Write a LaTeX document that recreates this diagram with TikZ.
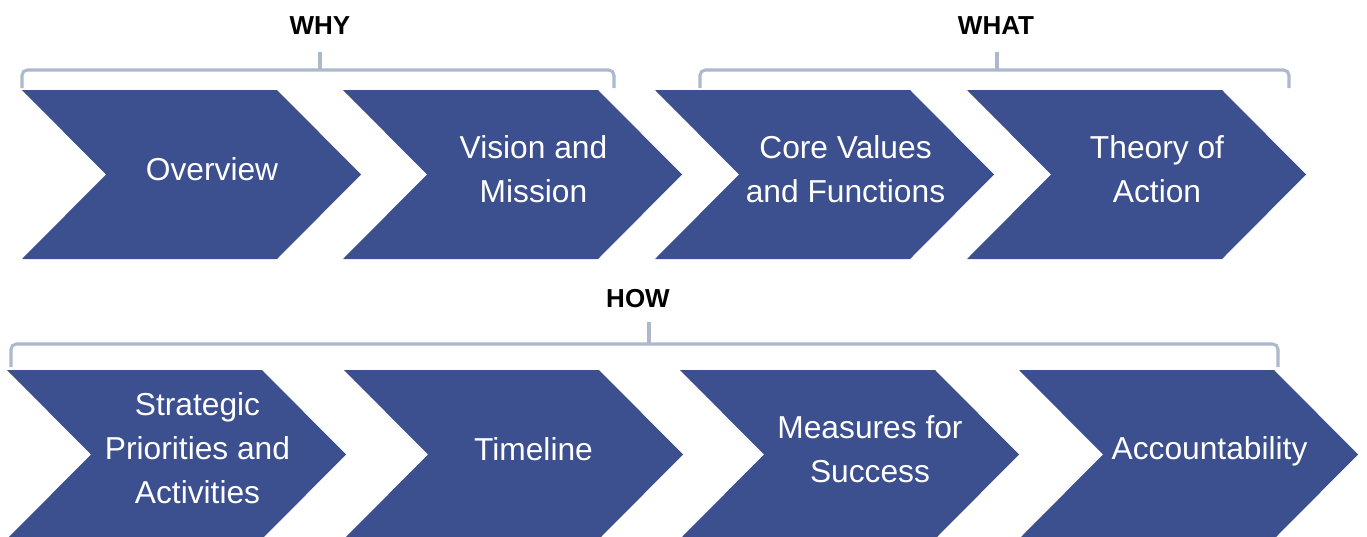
\documentclass[tikz,border=0pt]{standalone}
\usepackage{fontspec}
\setmainfont{Liberation Sans}
\definecolor{chevblue}{RGB}{60,79,143}
\definecolor{bracegray}{RGB}{172,184,203}
\newcommand\mychev[3]{% left x, top y, half height
  \fill[chevfill] (#1,#2) -- ++(255,0) -- ++(84,#3) -- ++(-84,#3) -- ++(-255,0) -- ++(84,-#3) -- cycle;}
\begin{document}
\begin{tikzpicture}[x=0.75pt,y=-0.75pt,
  chevfill/.style={fill=chevblue},
  lbl/.style={text=white,font=\fontsize{23.8}{33}\selectfont,align=center,inner sep=0pt},
  hdr/.style={text=black,font=\fontsize{19.5}{23}\selectfont\bfseries,inner sep=0pt},
  bracepath/.style={draw=bracegray,line width=2.3pt,rounded corners=4pt},
  bracetick/.style={draw=bracegray,line width=2.3pt}]
\useasboundingbox (0,0) rectangle (1367,536);
\clip (0,0) rectangle (1367,536);

% top row chevrons
\mychev{22}{90}{84.5}
\mychev{343}{90}{84.5}
\mychev{655}{90}{84.5}
\mychev{967}{90}{84.5}
% bottom row chevrons
\mychev{7}{370}{84.5}
\mychev{344}{370}{84.5}
\mychev{680}{370}{84.5}
\mychev{1019}{370}{84.5}

% brackets
\draw[bracepath] (22,88) -- (22,70) -- (614,70) -- (614,88);
\draw[bracetick] (320,70) -- (320,52);
\draw[bracepath] (700,88) -- (700,70) -- (1289,70) -- (1289,88);
\draw[bracetick] (997,70) -- (997,52);
\draw[bracepath] (11,367) -- (11,344) -- (1278,344) -- (1278,367);
\draw[bracetick] (649,344) -- (649,322);

% headers
\node[hdr] (why) at (320,26) {WHY};
\node[hdr] (what) at (996,26) {WHAT};
\node[hdr] (how) at (638,298.5) {HOW};

% labels
\node[lbl] (overview) at (212,169) {Overview};
\node[lbl] (vision) at (533.5,169.5) {Vision and\\Mission};
\node[lbl] (core) at (845.5,169.5) {Core Values\\and Functions};
\node[lbl] (theory) at (1157,169.5) {Theory of\\Action};
\node[lbl] (strategic) at (197.5,448) {Strategic\\Priorities and\\Activities};
\node[lbl] (timeline) at (533.5,449.5) {Timeline};
\node[lbl] (measures) at (870,449) {Measures for\\Success};
\node[lbl] (account) at (1209.5,451) {Accountability};
\end{tikzpicture}
\end{document}
